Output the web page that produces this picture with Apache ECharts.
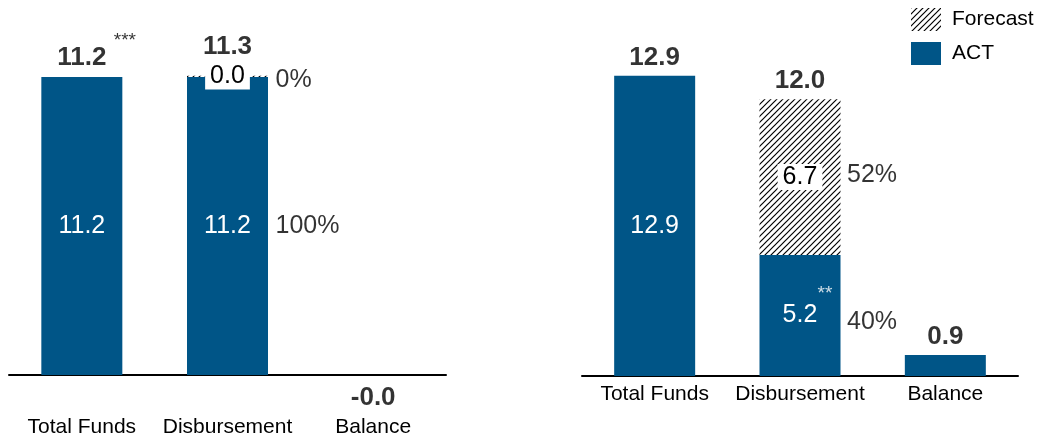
<!DOCTYPE html>
<html><head><meta charset="utf-8">
<script src="https://cdn.jsdelivr.net/npm/echarts@6/dist/echarts.min.js"></script>
<style>html,body{margin:0;padding:0;background:#fff}#c{width:1037px;height:440px}</style>
</head><body><div id="c"></div>
<script>
// ---- data ----
const categories = ['Total Funds', 'Disbursement', 'Balance'];
// left panel
const leftAct = [11.2, 11.2, -0.04];
const leftForecast = [null, 0.04, null];
const leftTotals = ['11.2', '11.3', '-0.0'];
const leftActPct = [null, '100%', null];
const leftForecastPct = [null, '0%', null];
const leftTotalNotes = ['***', '', ''];
// right panel
const rightAct = [12.9, 5.2, 0.9];
const rightForecast = [null, 6.7, null];
const rightTotals = ['12.9', '12.0', '0.9'];
const rightActPct = [null, '40%', null];
const rightForecastPct = [null, '52%', null];
const rightActNotes = ['', '**', ''];

// ---- styles ----
const BLUE = '#005587';
const FONT = '"Liberation Sans", Arial, sans-serif';
function hatch() {
  const c = document.createElement('canvas'); c.width = 6; c.height = 6;
  const g = c.getContext('2d');
  g.fillStyle = '#fff'; g.fillRect(0, 0, 6, 6);
  g.strokeStyle = '#000'; g.lineWidth = 1.2;
  g.beginPath();
  g.moveTo(0, 6); g.lineTo(6, 0);
  g.moveTo(-3, 3); g.lineTo(3, -3);
  g.moveTo(3, 9); g.lineTo(9, 3);
  g.stroke();
  return c;
}
const HATCH = { image: hatch(), repeat: 'repeat' };

function panelSeries(idx, act, fc, totals, actPct, fcPct, totalNotes, actNotes, pctOffsets) {
  const stackId = 's' + idx;
  const tops = act.map((v, i) => (v || 0) + (fc[i] || 0));
  const actMid = act.map(v => v / 2);
  const fcMid = fc.map((v, i) => v == null ? null : act[i] + v / 2);
  const base = { xAxisIndex: idx, yAxisIndex: idx };
  const s = [];
  s.push(Object.assign({}, base, {
    name: 'ACT', type: 'bar', stack: stackId, barWidth: 81,
    itemStyle: { color: BLUE },
    data: act,
    label: { show: true, position: 'inside', color: '#fff', fontSize: 25, fontFamily: FONT,
      formatter: p => p.dataIndex < 2 ? p.value.toFixed(1) : '' }
  }));
  s.push(Object.assign({}, base, {
    name: 'Forecast', type: 'bar', stack: stackId, barWidth: 81,
    itemStyle: { color: HATCH },
    data: fc,
    label: { show: true, position: 'inside', color: '#000', fontSize: 25, fontFamily: FONT,
      backgroundColor: '#fff', padding: [1, 5, 0, 5],
      formatter: p => p.value == null ? '' : p.value.toFixed(1) }
  }));
  // totals
  s.push(Object.assign({}, base, {
    type: 'scatter', symbolSize: 0, clip: false, silent: true,
    data: tops.map((t, i) => ({ value: [i, t],
      label: { position: t < 0 ? 'bottom' : 'top', distance: t < 0 ? 9 : (idx === 0 ? (i === 1 ? 16 : 6) : 5) } })),
    label: { show: true, color: '#000', fontSize: 26, fontWeight: 'bold', fontFamily: FONT,
      formatter: p => totals[p.dataIndex] }
  }));
  // percentages
  const pctData = [];
  actPct.forEach((t, i) => { if (t) pctData.push({ value: [i, actMid[i]], txt: t, label: { offset: [0, pctOffsets[0]] } }); });
  fcPct.forEach((t, i) => { if (t) pctData.push({ value: [i, fcMid[i]], txt: t, label: { offset: [0, pctOffsets[1]] } }); });
  s.push(Object.assign({}, base, {
    type: 'scatter', symbolSize: 0, clip: false, silent: true,
    data: pctData,
    label: { show: true, position: 'right', distance: idx === 0 ? 48 : 47, color: '#000', fontSize: 25, fontFamily: FONT,
      formatter: p => p.data.txt }
  }));
  // notes on totals
  const tn = [];
  totalNotes.forEach((t, i) => { if (t) tn.push({ value: [i, tops[i]], txt: t }); });
  s.push(Object.assign({}, base, {
    type: 'scatter', symbolSize: 0, clip: false, silent: true, data: tn,
    label: { show: true, position: 'inside', offset: [43, -36], color: '#000', fontSize: 19, fontFamily: FONT,
      formatter: p => p.data.txt }
  }));
  // notes on act labels
  const an = [];
  actNotes.forEach((t, i) => { if (t) an.push({ value: [i, actMid[i]], txt: t }); });
  s.push(Object.assign({}, base, {
    type: 'scatter', symbolSize: 0, clip: false, silent: true, data: an,
    label: { show: true, position: 'inside', offset: [25, -22], color: '#fff', fontSize: 19, fontFamily: FONT,
      formatter: p => p.data.txt }
  }));
  return s;
}

const xAxisCommon = {
  type: 'category', data: categories,
  axisTick: { show: false },
  axisLine: { lineStyle: { color: '#000', width: 2 } },
  axisLabel: { color: '#000', fontSize: 21, fontFamily: FONT, interval: 0 }
};

const option = {
  animation: false,
  backgroundColor: '#fff',
  textStyle: { fontFamily: FONT },
  grid: [
    { left: 9, width: 437, top: 29, bottom: 65 },
    { left: 582, width: 436, top: 27, bottom: 64 }
  ],
  xAxis: [
    Object.assign({}, xAxisCommon, { gridIndex: 0, axisLabel: Object.assign({}, xAxisCommon.axisLabel, { margin: 42 }) }),
    Object.assign({}, xAxisCommon, { gridIndex: 1, axisLabel: Object.assign({}, xAxisCommon.axisLabel, { margin: 8 }) })
  ],
  yAxis: [
    { type: 'value', gridIndex: 0, min: 0, max: 13, show: false },
    { type: 'value', gridIndex: 1, min: 0, max: 15, show: false }
  ],
  legend: {
    orient: 'vertical', left: 911, top: 8, padding: 0,
    itemWidth: 30, itemHeight: 23, itemGap: 11, icon: 'rect',
    data: ['Forecast', 'ACT'],
    textStyle: { color: '#000', fontSize: 21, fontFamily: FONT, padding: [0, 0, 0, 6] },
    selectedMode: false
  },
  series: [].concat(
    panelSeries(0, leftAct, leftForecast, leftTotals, leftActPct, leftForecastPct, leftTotalNotes, ['', '', ''], [0, 4]),
    panelSeries(1, rightAct, rightForecast, rightTotals, rightActPct, rightForecastPct, ['', '', ''], rightActNotes, [7, -2])
  )
};
const chart = echarts.init(document.getElementById('c'), null, { renderer: 'canvas' });
chart.setOption(option);
</script></body></html>
